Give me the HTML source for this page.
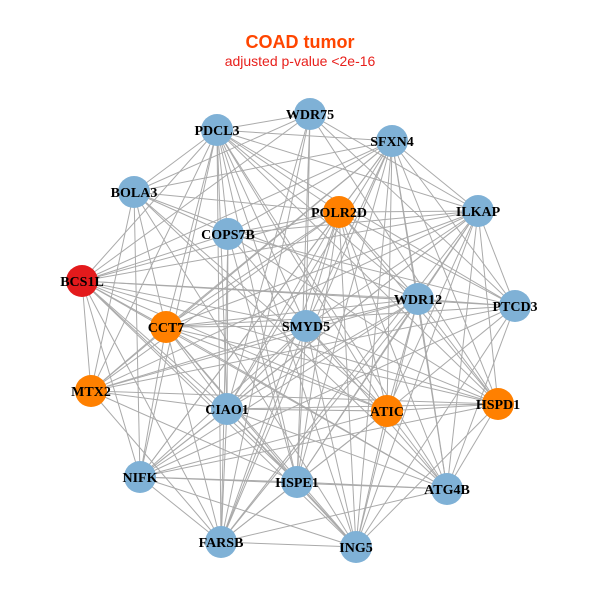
<!DOCTYPE html>
<html><head><meta charset="utf-8"><style>
html,body{margin:0;padding:0;background:#fff;width:600px;height:600px;overflow:hidden}
svg text{font-family:"Liberation Serif",serif;font-weight:bold;font-size:14px;text-anchor:middle}
</style></head><body>
<svg id="s" width="600" height="600" xmlns="http://www.w3.org/2000/svg">
<text x="300" y="48" style="font-family:'Liberation Sans',sans-serif;font-size:18px;fill:#ff4500">COAD tumor</text>
<text x="300" y="66" style="font-family:'Liberation Sans',sans-serif;font-weight:normal;font-size:14px;fill:#e8201c">adjusted p-value &lt;2e-16</text>
<g id="e" stroke="#aaaaaa" stroke-width="1"></g>
<g id="n"></g>
</svg>
<script>
var N=[["WDR75",310,114,0],["PDCL3",217,130,0],["SFXN4",392,141,0],["BOLA3",134,192,0],["POLR2D",339,212,1],["ILKAP",478,211,0],["COPS7B",228,234,0],["BCS1L",82,281,2],["WDR12",418,299,0],["PTCD3",515,306,0],["CCT7",166,327,1],["SMYD5",306,326,0],["MTX2",91,391,1],["CIAO1",227,409,0],["ATIC",387,411,1],["HSPD1",498,404,1],["NIFK",140,477,0],["HSPE1",297,482,0],["ATG4B",447,489,0],["FARSB",221,542,0],["ING5",356,547,0]];
var C=["#7fb1d6","#ff8000","#e31a1c"];
var e=document.getElementById("e"),g=document.getElementById("n"),ns="http://www.w3.org/2000/svg";
for(var i=0;i<N.length;i++)for(var j=i+1;j<N.length;j++){
 if((i*7+j*3)%6==0)continue;
 var l=document.createElementNS(ns,"line");
 l.setAttribute("x1",N[i][1]);l.setAttribute("y1",N[i][2]);l.setAttribute("x2",N[j][1]);l.setAttribute("y2",N[j][2]);e.appendChild(l);}
N.forEach(function(d){
 var c=document.createElementNS(ns,"circle");c.setAttribute("cx",d[1]);c.setAttribute("cy",d[2]);c.setAttribute("r",16);c.setAttribute("fill",C[d[3]]);g.appendChild(c);
 var t=document.createElementNS(ns,"text");t.setAttribute("x",d[1]);t.setAttribute("y",d[2]+5);t.textContent=d[0];g.appendChild(t);});
</script>
</body></html>
